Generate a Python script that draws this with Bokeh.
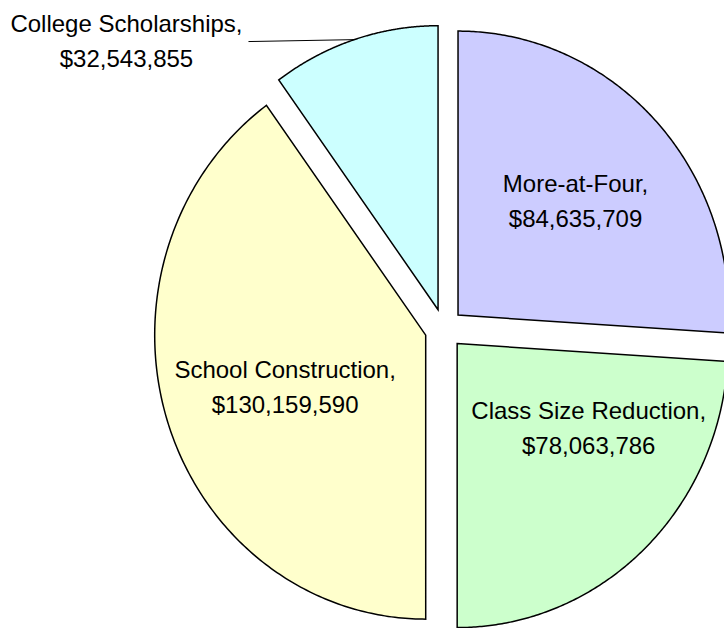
import numpy as np
from bokeh.plotting import figure
from bokeh.models import Range1d
from bokeh.core.properties import value
from bokeh.embed import file_html
from bokeh.resources import INLINE

# ---- data ----
categories = ["More-at-Four", "Class Size Reduction", "School Construction", "College Scholarships"]
amounts = [84635709, 78063786, 130159590, 32543855]
colors = ["#CCCCFF", "#CCFFCC", "#FFFFCC", "#CCFFFF"]

# ---- layout / style ----
W, H = 724, 628            # plot frame in px
RX, RY = 271.0, 284.0      # px per unit radius (pie drawn slightly taller than wide)
CX, CY = 443.5, 328.4      # pie centre in frame px (from top-left)
EXPLODE = 0.071            # slice offset, in radius units
label_angle = [47.3, 121.6, 250.6, 309.5]   # deg clockwise from top, from slice apex
label_r = [0.59, 0.57, 0.55, 1.49]
LINE_GAP_PX = 17.5
FONT = "Liberation Sans"
FONT_SIZE = "24px"

p = figure(width=W, height=H, output_backend="svg", toolbar_location=None,
           x_range=Range1d(-CX / RX, (W - CX) / RX),
           y_range=Range1d(-(H - CY) / RY, CY / RY),
           x_axis_type=None, y_axis_type=None, min_border=0)
p.grid.visible = False
p.outline_line_color = None
p.background_fill_color = "white"
p.border_fill_color = "white"

total = float(sum(amounts))
fracs = [a / total for a in amounts]
starts = np.cumsum([0.0] + fracs[:-1]) * 2 * np.pi
ends = np.cumsum(fracs) * 2 * np.pi

xs, ys, offsets = [], [], []
for a0, a1 in zip(starts, ends):
    bis = 0.5 * (a0 + a1)
    ox, oy = EXPLODE * np.sin(bis), EXPLODE * np.cos(bis)
    offsets.append((ox, oy, bis))
    t = np.linspace(a0, a1, 200)
    xs.append([ox] + list(ox + np.sin(t)) + [ox])
    ys.append([oy] + list(oy + np.cos(t)) + [oy])

p.patches(xs, ys, fill_color=colors, line_color="black", line_width=1.5, line_join="miter")

# ---- labels ----
dy = LINE_GAP_PX / RY
for i, (name, amt) in enumerate(zip(categories, amounts)):
    ox, oy, bis = offsets[i]
    ang = np.deg2rad(label_angle[i])
    lx = ox + label_r[i] * np.sin(ang)
    ly = oy + label_r[i] * np.cos(ang)
    p.text(x=[lx, lx], y=[ly + dy, ly - dy],
           text=[name + ",", "${:,}".format(amt)],
           text_align="center", text_baseline="middle",
           text_font=value(FONT), text_font_size=FONT_SIZE, text_color="black")
    if label_r[i] > 1.0:
        # leader line from label to middle of the slice's arc
        sx = lx + 122.0 / RX
        sy = ly - 1.0 / RY
        p.line([sx, ox + np.sin(bis)], [sy, oy + np.cos(bis)], line_color="black", line_width=1)

open("out.html", "w").write(file_html(p, INLINE))
